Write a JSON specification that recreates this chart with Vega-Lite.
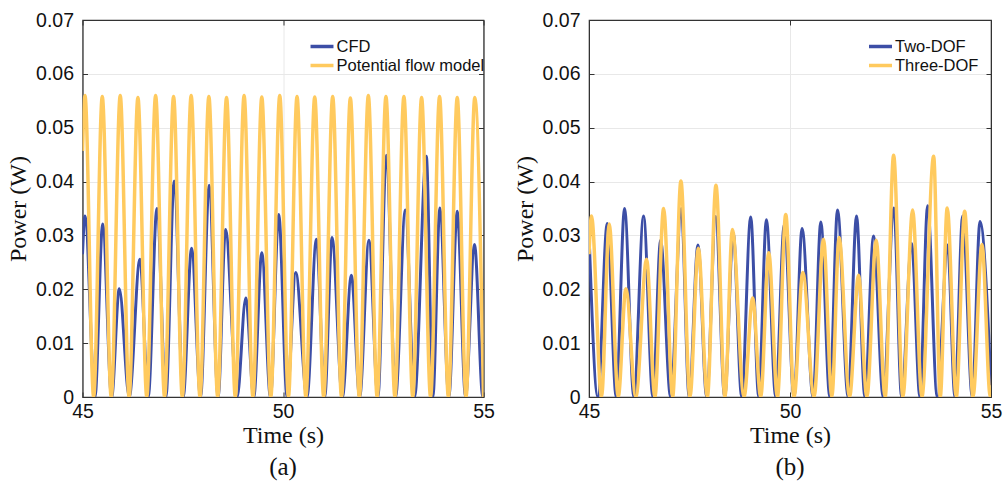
{
  "$schema": "https://vega.github.io/schema/vega-lite/v6.json",
  "background": "white",
  "padding": {"left": 5.5, "top": 9, "right": 0, "bottom": 0},
  "spacing": 16.5,
  "datasets": {
    "cfd": [
      {"t": 45.0, "p": 0.0265}, {"t": 45.062, "p": 0.0336}, {"t": 45.311, "p": 0}, {"t": 45.503, "p": 0.0321},
      {"t": 45.727, "p": 0}, {"t": 45.917, "p": 0.0201}, {"t": 46.166, "p": 0}, {"t": 46.432, "p": 0.0256},
      {"t": 46.639, "p": 0}, {"t": 46.856, "p": 0.035}, {"t": 47.08, "p": 0}, {"t": 47.286, "p": 0.0401},
      {"t": 47.511, "p": 0}, {"t": 47.72, "p": 0.0276}, {"t": 47.944, "p": 0}, {"t": 48.158, "p": 0.0393},
      {"t": 48.382, "p": 0}, {"t": 48.567, "p": 0.0311}, {"t": 48.856, "p": 0}, {"t": 49.072, "p": 0.0184},
      {"t": 49.271, "p": 0}, {"t": 49.471, "p": 0.0268}, {"t": 49.687, "p": 0}, {"t": 49.894, "p": 0.0339},
      {"t": 50.101, "p": 0}, {"t": 50.318, "p": 0.0231}, {"t": 50.599, "p": 0}, {"t": 50.833, "p": 0.0293},
      {"t": 51.04, "p": 0}, {"t": 51.222, "p": 0.0296}, {"t": 51.481, "p": 0}, {"t": 51.705, "p": 0.0226},
      {"t": 51.912, "p": 0}, {"t": 52.143, "p": 0.0291}, {"t": 52.367, "p": 0}, {"t": 52.577, "p": 0.0449},
      {"t": 52.808, "p": 0}, {"t": 53.05, "p": 0.0347}, {"t": 53.281, "p": 0}, {"t": 53.573, "p": 0.0447},
      {"t": 53.737, "p": 0}, {"t": 53.911, "p": 0.0351}, {"t": 54.136, "p": 0}, {"t": 54.345, "p": 0.0345},
      {"t": 54.552, "p": 0}, {"t": 54.776, "p": 0.0283}, {"t": 54.983, "p": 0}, {"t": 55.0, "p": 0}
    ],
    "pot": [
      {"t": 45.0, "p": 0.0457}, {"t": 45.062, "p": 0.056}, {"t": 45.278, "p": 0}, {"t": 45.493, "p": 0.0558},
      {"t": 45.717, "p": 0}, {"t": 45.941, "p": 0.056}, {"t": 46.162, "p": 0}, {"t": 46.382, "p": 0.0556},
      {"t": 46.603, "p": 0}, {"t": 46.823, "p": 0.056}, {"t": 47.047, "p": 0}, {"t": 47.271, "p": 0.0558},
      {"t": 47.49, "p": 0}, {"t": 47.71, "p": 0.056}, {"t": 47.93, "p": 0}, {"t": 48.151, "p": 0.0558},
      {"t": 48.372, "p": 0}, {"t": 48.592, "p": 0.0556}, {"t": 48.811, "p": 0}, {"t": 49.03, "p": 0.056},
      {"t": 49.25, "p": 0}, {"t": 49.471, "p": 0.0557}, {"t": 49.695, "p": 0}, {"t": 49.919, "p": 0.056},
      {"t": 50.135, "p": 0}, {"t": 50.35, "p": 0.0558}, {"t": 50.57, "p": 0}, {"t": 50.791, "p": 0.0557},
      {"t": 51.015, "p": 0}, {"t": 51.239, "p": 0.0558}, {"t": 51.46, "p": 0}, {"t": 51.68, "p": 0.0555},
      {"t": 51.904, "p": 0}, {"t": 52.128, "p": 0.056}, {"t": 52.348, "p": 0}, {"t": 52.567, "p": 0.0558},
      {"t": 52.791, "p": 0}, {"t": 53.015, "p": 0.0558}, {"t": 53.236, "p": 0}, {"t": 53.456, "p": 0.0556},
      {"t": 53.68, "p": 0}, {"t": 53.904, "p": 0.0558}, {"t": 54.125, "p": 0}, {"t": 54.345, "p": 0.0556},
      {"t": 54.564, "p": 0}, {"t": 54.783, "p": 0.0556}, {"t": 55.0, "p": 0}
    ],
    "two": [
      {"t": 45.0, "p": 0.0305}, {"t": 45.219, "p": 0}, {"t": 45.453, "p": 0.0322}, {"t": 45.677, "p": 0},
      {"t": 45.884, "p": 0.035}, {"t": 46.116, "p": 0}, {"t": 46.357, "p": 0.0336}, {"t": 46.589, "p": 0},
      {"t": 46.781, "p": 0.0291}, {"t": 47.03, "p": 0}, {"t": 47.296, "p": 0.035}, {"t": 47.491, "p": 0},
      {"t": 47.71, "p": 0.0282}, {"t": 47.927, "p": 0}, {"t": 48.151, "p": 0.0335}, {"t": 48.375, "p": 0},
      {"t": 48.587, "p": 0.0305}, {"t": 48.798, "p": 0}, {"t": 49.022, "p": 0.0334}, {"t": 49.222, "p": 0},
      {"t": 49.413, "p": 0.0329}, {"t": 49.645, "p": 0}, {"t": 49.857, "p": 0.032}, {"t": 50.101, "p": 0},
      {"t": 50.3, "p": 0.0313}, {"t": 50.574, "p": 0}, {"t": 50.766, "p": 0.0325}, {"t": 50.99, "p": 0},
      {"t": 51.182, "p": 0.0347}, {"t": 51.446, "p": 0}, {"t": 51.655, "p": 0.0336}, {"t": 51.862, "p": 0},
      {"t": 52.078, "p": 0.0299}, {"t": 52.318, "p": 0}, {"t": 52.584, "p": 0.0351}, {"t": 52.776, "p": 0},
      {"t": 53.025, "p": 0.0285}, {"t": 53.232, "p": 0}, {"t": 53.424, "p": 0.0355}, {"t": 53.662, "p": 0},
      {"t": 53.921, "p": 0.0282}, {"t": 54.103, "p": 0}, {"t": 54.295, "p": 0.0336}, {"t": 54.534, "p": 0},
      {"t": 54.726, "p": 0.0326}, {"t": 55.0, "p": 0.0022}
    ]
  },
  "config": {
    "view": {"stroke": "#333333", "strokeWidth": 1.2},
    "axis": {
      "labelFont": "Liberation Sans", "labelFontSize": 19.5, "labelColor": "#111", "labelFlush": false,
      "titleFont": "Liberation Serif", "titleFontSize": 24, "titleFontWeight": "normal", "titleColor": "#111",
      "gridColor": "#e8e8e8", "gridWidth": 1, "domainColor": "#333333", "tickColor": "#333333",
      "tickSize": -5
    },
    "legend": {
      "labelFont": "Liberation Sans", "labelFontSize": 16.5, "labelColor": "#111",
      "symbolType": "M-1.35,0H1.35", "symbolSize": 289, "symbolStrokeWidth": 3.5, "rowPadding": -1.5, "labelOffset": 4
    },
    "title": {"font": "Liberation Serif", "fontSize": 25, "fontWeight": "normal", "color": "#111"}
  },
  "resolve": {"scale": {"color": "independent"}},
  "hconcat": [
    {
      "width": 401, "height": 377,
      "title": {"text": "(a)", "orient": "bottom", "offset": 7},
      "resolve": {"axis": {"x": "independent", "y": "independent"}},
      "layer": [
        {
          "data": {"name": "cfd"},
          "mark": {"type": "line", "interpolate": "monotone", "strokeWidth": 3, "clip": true},
          "encoding": {
            "x": {"field": "t", "type": "quantitative", "scale": {"domain": [45, 55], "nice": false},
                  "axis": {"values": [45, 50, 55], "title": "Time (s)", "titlePadding": 3, "labelPadding": 10}},
            "y": {"field": "p", "type": "quantitative", "scale": {"domain": [0, 0.07], "nice": false},
                  "axis": {"values": [0, 0.01, 0.02, 0.03, 0.04, 0.05, 0.06, 0.07], "title": "Power (W)", "titlePadding": 5, "labelPadding": 14,
                           "labelExpr": "datum.value == 0 ? '0' : format(datum.value, '.2f')"}},
            "color": {"datum": "CFD", "type": "nominal",
                      "scale": {"domain": ["CFD", "Potential flow model"], "range": ["#3c4ea6", "#ffca5e"]},
                      "legend": {"title": null, "orient": "none", "legendX": 229, "legendY": 16}}
          }
        },
        {
          "data": {"name": "pot"},
          "mark": {"type": "line", "interpolate": "monotone", "strokeWidth": 3.5, "clip": true},
          "encoding": {
            "x": {"field": "t", "type": "quantitative", "axis": null},
            "y": {"field": "p", "type": "quantitative", "axis": null},
            "color": {"datum": "Potential flow model", "type": "nominal"}
          }
        },
        {
          "data": {"name": "pot"},
          "mark": {"type": "point", "opacity": 0},
          "encoding": {
            "x": {"field": "t", "type": "quantitative",
                  "axis": {"orient": "top", "values": [45, 50, 55], "labels": false, "title": null, "grid": false}},
            "y": {"field": "p", "type": "quantitative",
                  "axis": {"orient": "right", "values": [0, 0.01, 0.02, 0.03, 0.04, 0.05, 0.06, 0.07], "labels": false, "title": null, "grid": false}}
          }
        }
      ]
    },
    {
      "width": 402, "height": 377,
      "title": {"text": "(b)", "orient": "bottom", "offset": 7},
      "resolve": {"axis": {"x": "independent", "y": "independent"}},
      "layer": [
        {
          "data": {"name": "two"},
          "mark": {"type": "line", "interpolate": "monotone", "strokeWidth": 3, "clip": true},
          "encoding": {
            "x": {"field": "t", "type": "quantitative", "scale": {"domain": [45, 55], "nice": false},
                  "axis": {"values": [45, 50, 55], "title": "Time (s)", "titlePadding": 3, "labelPadding": 10}},
            "y": {"field": "p", "type": "quantitative", "scale": {"domain": [0, 0.07], "nice": false},
                  "axis": {"values": [0, 0.01, 0.02, 0.03, 0.04, 0.05, 0.06, 0.07], "title": "Power (W)", "titlePadding": 5, "labelPadding": 14,
                           "labelExpr": "datum.value == 0 ? '0' : format(datum.value, '.2f')"}},
            "color": {"datum": "Two-DOF", "type": "nominal",
                      "scale": {"domain": ["Two-DOF", "Three-DOF"], "range": ["#3c4ea6", "#ffca5e"]},
                      "legend": {"title": null, "orient": "none", "legendX": 281, "legendY": 16}}
          }
        },
        {
          "data": {"name": "cfd"},
          "mark": {"type": "line", "interpolate": "monotone", "strokeWidth": 3.5, "clip": true},
          "encoding": {
            "x": {"field": "t", "type": "quantitative", "axis": null},
            "y": {"field": "p", "type": "quantitative", "axis": null},
            "color": {"datum": "Three-DOF", "type": "nominal"}
          }
        },
        {
          "data": {"name": "cfd"},
          "mark": {"type": "point", "opacity": 0},
          "encoding": {
            "x": {"field": "t", "type": "quantitative",
                  "axis": {"orient": "top", "values": [45, 50, 55], "labels": false, "title": null, "grid": false}},
            "y": {"field": "p", "type": "quantitative",
                  "axis": {"orient": "right", "values": [0, 0.01, 0.02, 0.03, 0.04, 0.05, 0.06, 0.07], "labels": false, "title": null, "grid": false}}
          }
        }
      ]
    }
  ]
}
